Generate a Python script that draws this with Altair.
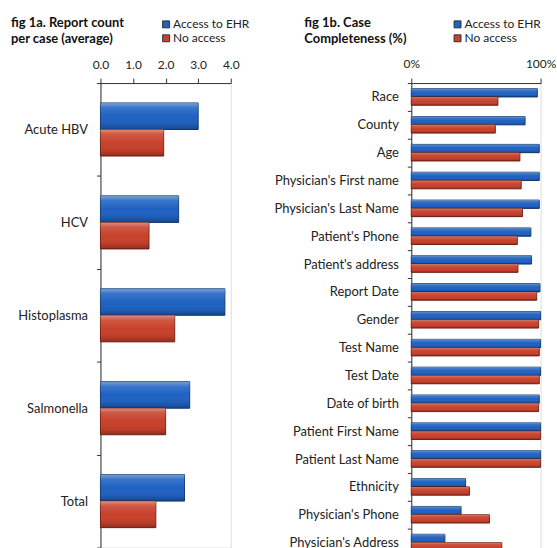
import altair as alt
import pandas as pd

FONT = "Lato"

series = ["Access to EHR", "No access"]
fill_colors = ["#1F62C2", "#C8412B"]
edge_colors = ["#163F7A", "#7A2618"]

left_categories = ["Acute HBV", "HCV", "Histoplasma", "Salmonella", "Total"]
left_access = [3.0, 2.4, 3.82, 2.74, 2.58]
left_noaccess = [1.94, 1.49, 2.28, 2.0, 1.7]

right_categories = ["Race", "County", "Age", "Physician's First name",
                    "Physician's Last Name", "Patient's Phone", "Patient's address",
                    "Report Date", "Gender", "Test Name", "Test Date", "Date of birth",
                    "Patient First Name", "Patient Last Name", "Ethnicity",
                    "Physician's Phone", "Physician's Address"]
right_access = [97.5, 88, 99, 99, 99, 92.5, 93, 99.5, 100, 100, 100, 99, 100, 100, 42, 38.5, 26]
right_noaccess = [67, 65, 84, 85, 86, 82, 82.5, 97, 98.5, 99, 99, 98.5, 100, 100, 45, 60.5, 70]


def to_long(cats, a, b):
    rows = []
    for c, v1, v2 in zip(cats, a, b):
        rows.append({"category": c, "series": series[0], "value": v1})
        rows.append({"category": c, "series": series[1], "value": v2})
    return pd.DataFrame(rows)


left_df = to_long(left_categories, left_access, left_noaccess)
right_df = to_long(right_categories, right_access, right_noaccess)

AX = "#333333"
TXT = "#222222"

bevel = alt.Gradient(
    gradient="linear", x1=0, x2=0, y1=0, y2=1,
    stops=[
        alt.GradientStop(offset=0, color="rgba(255,255,255,0.40)"),
        alt.GradientStop(offset=0.18, color="rgba(255,255,255,0.12)"),
        alt.GradientStop(offset=0.5, color="rgba(255,255,255,0)"),
        alt.GradientStop(offset=0.8, color="rgba(0,0,0,0.06)"),
        alt.GradientStop(offset=1, color="rgba(0,0,0,0.28)"),
    ],
)


def panel(df, cats, x_scale, x_axis, off_pad, legend_xy, title_lines, title_dx,
          title_offset, w, h):
    x_enc = alt.X("value:Q", title=None, scale=x_scale, axis=x_axis)
    y_enc = alt.Y("category:N", sort=cats, title=None,
                  scale=alt.Scale(paddingInner=0, paddingOuter=0),
                  axis=alt.Axis(tickBand="extent", tickSize=4, labelPadding=9,
                                labelFontSize=13, labelFont=FONT, labelColor=TXT,
                                domainColor=AX, tickColor=AX, grid=False))
    off_enc = alt.YOffset("series:N", sort=series,
                          scale=alt.Scale(paddingOuter=off_pad, paddingInner=0))
    base = alt.Chart(df).mark_bar(strokeWidth=1).encode(
        x=x_enc, y=y_enc, yOffset=off_enc,
        color=alt.Color("series:N", sort=series,
                        scale=alt.Scale(domain=series, range=fill_colors),
                        legend=alt.Legend(orient="none", legendX=legend_xy[0],
                                          legendY=legend_xy[1], title=None,
                                          direction="vertical", symbolType="square",
                                          symbolSize=49, labelFontSize=12,
                                          labelFont=FONT, labelColor=TXT,
                                          rowPadding=2, labelOffset=1, padding=0,
                                          symbolStrokeWidth=1, symbolStrokeColor="#333333")),
        stroke=alt.Stroke("series:N", sort=series,
                          scale=alt.Scale(domain=series, range=edge_colors), legend=None),
    )
    shine = alt.Chart(df).mark_bar(fill=bevel, strokeWidth=0).encode(
        x=x_enc, y=y_enc, yOffset=off_enc,
    )
    return alt.layer(base, shine).properties(
        width=w, height=h,
        title=alt.TitleParams(title_lines, anchor="start", frame="group", dx=title_dx,
                              offset=title_offset, fontSize=13, font=FONT,
                              fontWeight="bold", lineHeight=16, color="#111111"),
    )


left = panel(
    left_df, left_categories,
    alt.Scale(domain=[0, 4], nice=False, zero=True),
    alt.Axis(orient="top", values=[0, 1, 2, 3, 4], format=".1f", grid=False,
             labelFlush=False, tickSize=5, domainColor=AX, tickColor=AX,
             labelFontSize=12, labelFont=FONT, labelColor=TXT, labelPadding=7),
    0.75, (60, -65), ["fig 1a. Report count", "per case  (average)"], -90, -28, 131, 467)

right = panel(
    right_df, right_categories,
    alt.Scale(domain=[0, 100], nice=False, zero=True),
    alt.Axis(orient="top", values=[0, 100], labelExpr="datum.value + '%'", grid=False,
             labelFlush=False, tickSize=5, domainColor=AX, tickColor=AX,
             labelFontSize=12, labelFont=FONT, labelColor=TXT, labelPadding=8),
    0.68, (40.5, -65), ["fig 1b. Case", "Completeness (%)"], -107.5, -28, 130, 476)

chart = alt.hconcat(left, right, spacing=181.5, bounds="flush").resolve_scale(
    yOffset="independent", y="independent", x="independent"
).resolve_legend(
    color="independent"
).properties(
    padding={"left": 10, "top": 15, "right": 0, "bottom": 0}
).configure_view(stroke=None).configure(font=FONT)

chart.save("out.html", embed_options={"renderer": "svg", "actions": False})
